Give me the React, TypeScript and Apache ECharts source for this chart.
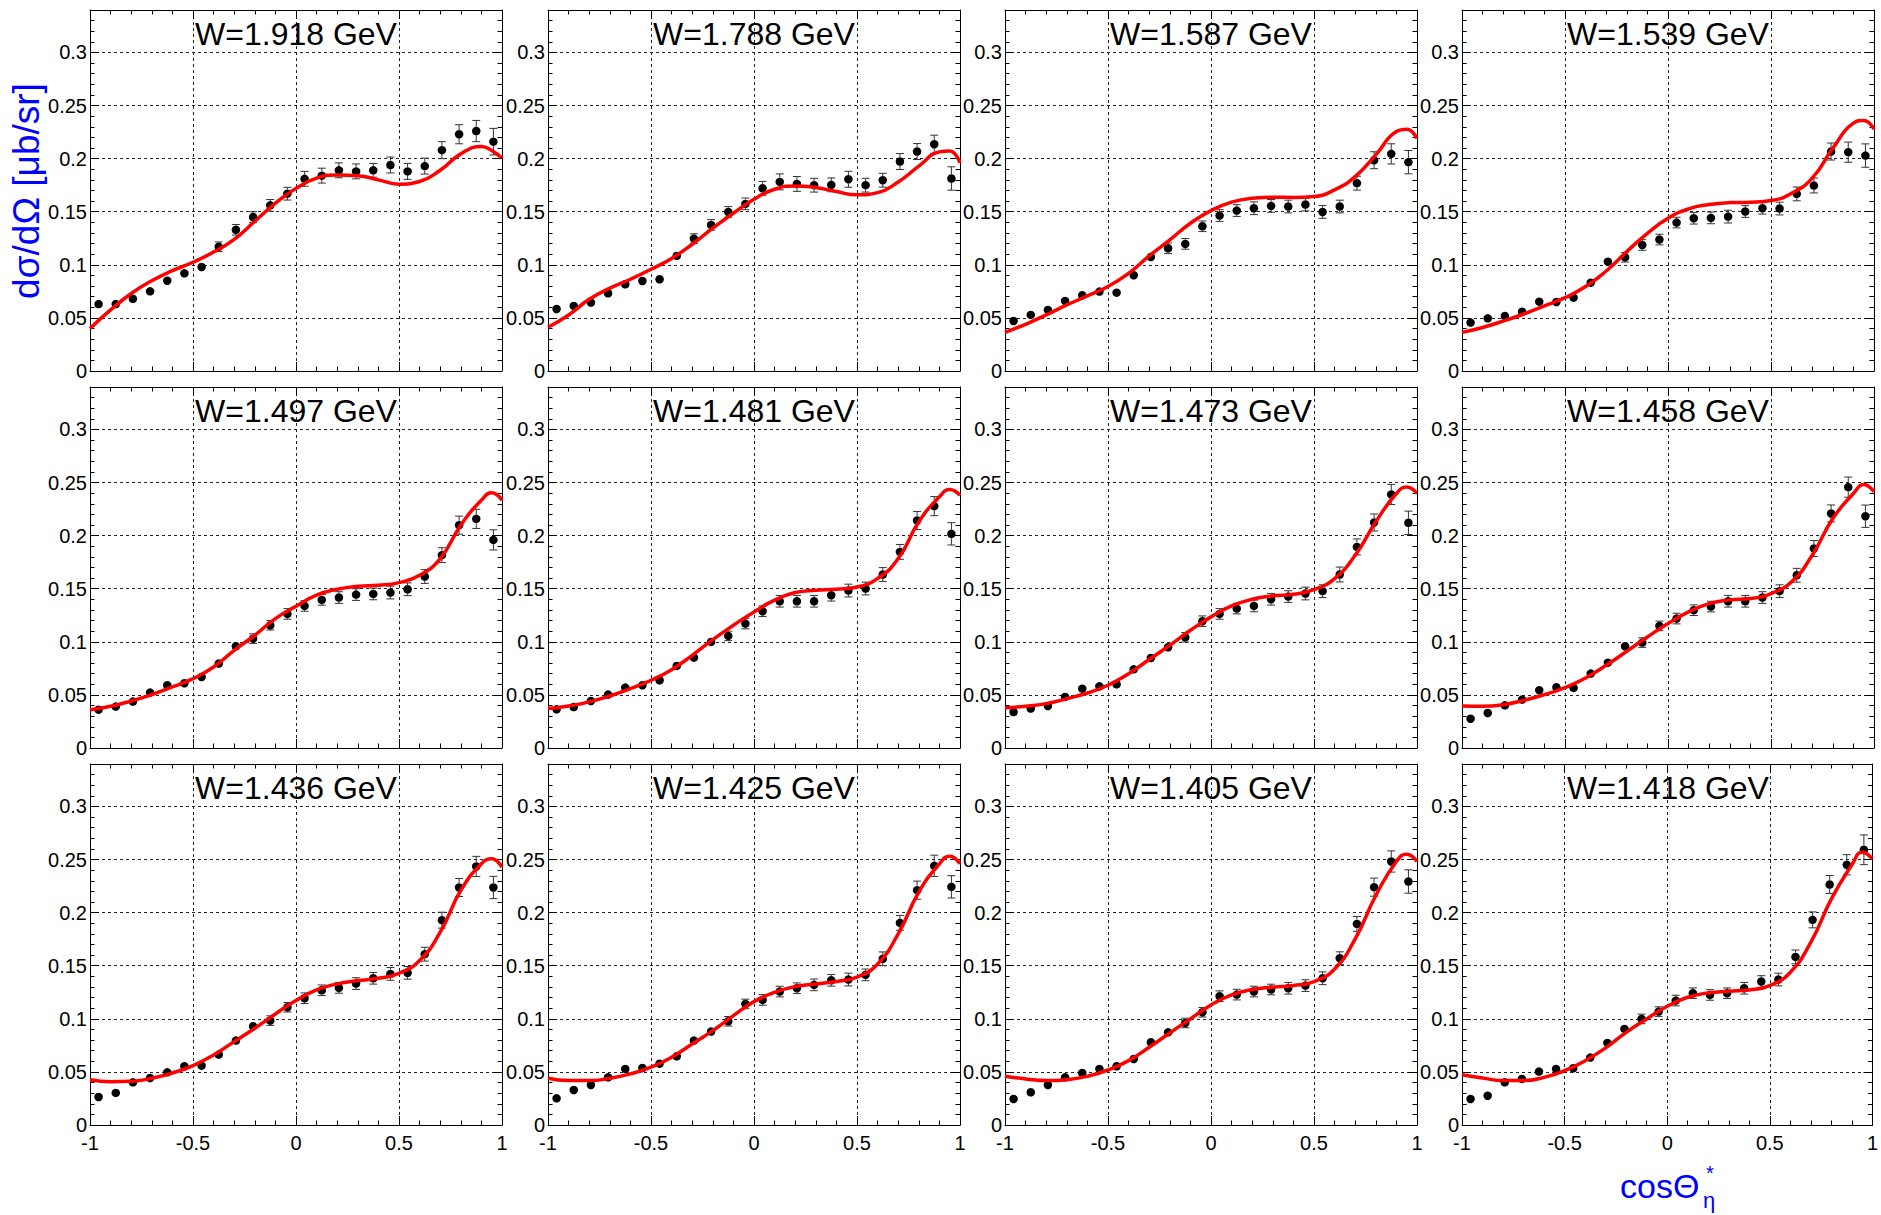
import React, { useEffect, useRef } from "react";
import * as echarts from "echarts";

const FONT = '"Liberation Sans", Arial, Helvetica, sans-serif';

const panelTitles = [
  "W=1.918 GeV", "W=1.788 GeV", "W=1.587 GeV", "W=1.539 GeV",
  "W=1.497 GeV", "W=1.481 GeV", "W=1.473 GeV", "W=1.458 GeV",
  "W=1.436 GeV", "W=1.425 GeV", "W=1.405 GeV", "W=1.418 GeV",
];

const cosTheta = [-0.9583, -0.875, -0.7917, -0.7083, -0.625, -0.5417, -0.4583, -0.375, -0.2917, -0.2083, -0.125, -0.0417,
  0.0417, 0.125, 0.2083, 0.2917, 0.375, 0.4583, 0.5417, 0.625, 0.7083, 0.7917, 0.875, 0.9583];

const curveX = [-1, -0.9, -0.8, -0.7, -0.6, -0.5, -0.4, -0.3, -0.2, -0.1, 0, 0.1, 0.2, 0.3, 0.4, 0.5, 0.6, 0.7, 0.8, 0.9, 0.95, 1];

const yTicks = ["0", "0.05", "0.1", "0.15", "0.2", "0.25", "0.3"];

const data1918 = [0.063,0.063,0.068,0.075,0.085,0.092,0.098,0.117,0.133,0.145,0.156,0.167,0.181,0.184,0.189,0.188,0.189,0.194,0.188,0.193,0.208,0.223,0.226,0.216];
const err1918 = [0.003,0.003,0.003,0.003,0.0035,0.004,0.004,0.0045,0.005,0.005,0.0055,0.006,0.007,0.007,0.007,0.007,0.0065,0.0075,0.0075,0.0075,0.008,0.009,0.010,0.0125];
const fit1918 = [0.040,0.0575,0.073,0.085,0.0945,0.1024,0.112,0.124,0.141,0.158,0.172,0.1816,0.1847,0.184,0.180,0.176,0.1785,0.189,0.2045,0.2114,0.2076,0.2004];

const data1788 = [0.0584,0.0613,0.0644,0.0732,0.0817,0.0848,0.0864,0.1084,0.1247,0.1376,0.1498,0.1574,0.1721,0.1781,0.1762,0.175,0.1753,0.1806,0.175,0.1797,0.1973,0.2067,0.2136,0.1813];
const err1788 = [0.003,0.003,0.003,0.003,0.003,0.0035,0.0035,0.004,0.0045,0.005,0.005,0.0055,0.0065,0.0075,0.007,0.0065,0.0065,0.0075,0.0065,0.0065,0.0075,0.0075,0.0085,0.011];
const fit1788 = [0.0412,0.0528,0.0675,0.078,0.0864,0.0958,0.106,0.1194,0.1345,0.1486,0.1618,0.1712,0.1743,0.1728,0.169,0.1659,0.168,0.178,0.193,0.2064,0.2073,0.196];

const data1587 = [0.0471,0.0528,0.0575,0.066,0.0713,0.0748,0.0738,0.0902,0.1074,0.1156,0.1197,0.1363,0.1464,0.1511,0.1533,0.1555,0.1549,0.1568,0.1498,0.1549,0.1769,0.1985,0.2045,0.1967];
const err1587 = [0.003,0.003,0.003,0.003,0.003,0.003,0.003,0.0035,0.004,0.005,0.005,0.005,0.0055,0.0055,0.006,0.006,0.006,0.006,0.006,0.006,0.0065,0.008,0.0095,0.011];
const fit1587 = [0.0364,0.044,0.0528,0.0622,0.0707,0.0795,0.092,0.1084,0.1235,0.1392,0.1511,0.159,0.1627,0.1637,0.1634,0.1643,0.1706,0.1831,0.2036,0.2256,0.2278,0.219];

const data1539 = [0.0456,0.0496,0.0518,0.0559,0.0653,0.065,0.0691,0.0832,0.103,0.1071,0.1187,0.1238,0.1398,0.1439,0.1442,0.1454,0.1502,0.1533,0.153,0.1668,0.1747,0.2067,0.2061,0.2029];
const err1539 = [0.003,0.003,0.003,0.003,0.003,0.003,0.003,0.0035,0.004,0.0045,0.005,0.005,0.005,0.0055,0.0055,0.006,0.0055,0.0055,0.006,0.0065,0.007,0.008,0.0095,0.011];
const fit1539 = [0.0364,0.041,0.047,0.0537,0.0613,0.0691,0.0795,0.0942,0.1125,0.1297,0.1439,0.1527,0.1568,0.1586,0.159,0.1605,0.1674,0.1816,0.2098,0.2334,0.236,0.2278];

const data1497 = [0.0361,0.039,0.0437,0.0522,0.0591,0.061,0.0669,0.0795,0.0958,0.103,0.1156,0.1263,0.1338,0.1395,0.1417,0.1445,0.1451,0.1464,0.1495,0.1615,0.1816,0.2099,0.2158,0.196];
const err1497 = [0.003,0.003,0.003,0.003,0.003,0.003,0.003,0.0035,0.004,0.0045,0.0045,0.005,0.005,0.005,0.0055,0.0055,0.0055,0.006,0.006,0.0065,0.007,0.0085,0.009,0.0095];
const fit1497 = [0.0361,0.0393,0.0443,0.0503,0.0575,0.0653,0.0763,0.092,0.1062,0.1219,0.1335,0.1439,0.1495,0.1524,0.1533,0.1558,0.1627,0.1784,0.2099,0.2334,0.2403,0.2334];

const data1481 = [0.0364,0.0386,0.0443,0.0503,0.0569,0.0591,0.0638,0.0773,0.0851,0.0999,0.1056,0.1172,0.1288,0.1382,0.1382,0.1382,0.1439,0.1483,0.1502,0.1634,0.1847,0.2143,0.2278,0.2017];
const err1481 = [0.003,0.003,0.003,0.003,0.003,0.003,0.003,0.003,0.0035,0.004,0.0045,0.005,0.005,0.0055,0.0055,0.0055,0.0055,0.006,0.006,0.0065,0.007,0.0085,0.009,0.0105];
const fit1481 = [0.0371,0.0396,0.0434,0.049,0.0559,0.0638,0.0738,0.0873,0.1021,0.1156,0.1282,0.1392,0.1464,0.1486,0.1495,0.1517,0.1596,0.1784,0.213,0.2366,0.2435,0.2381];

const data1473 = [0.0339,0.0371,0.0396,0.0481,0.0559,0.0581,0.06,0.0741,0.0848,0.0949,0.1043,0.1194,0.1263,0.1313,0.1338,0.1401,0.1426,0.1455,0.1477,0.1634,0.1894,0.2124,0.2388,0.2121];
const err1473 = [0.003,0.003,0.003,0.003,0.003,0.003,0.003,0.003,0.0035,0.004,0.0045,0.005,0.005,0.005,0.0055,0.0055,0.0055,0.006,0.006,0.007,0.0075,0.008,0.0095,0.011];
const fit1473 = [0.038,0.0393,0.0418,0.0465,0.0518,0.0591,0.07,0.0833,0.0968,0.1109,0.1235,0.1338,0.1401,0.1433,0.1448,0.1492,0.1596,0.1816,0.213,0.2397,0.2457,0.2397];

const data1458 = [0.0276,0.033,0.0402,0.0456,0.0544,0.0572,0.0566,0.0701,0.0804,0.0958,0.0993,0.115,0.1219,0.1298,0.1332,0.1382,0.1382,0.1417,0.1477,0.1627,0.1879,0.2209,0.2457,0.2183];
const err1458 = [0.003,0.003,0.003,0.003,0.003,0.003,0.003,0.003,0.0035,0.004,0.0045,0.0045,0.005,0.005,0.005,0.0055,0.0055,0.0055,0.006,0.0065,0.0075,0.008,0.0095,0.0105];
const fit1458 = [0.0396,0.0393,0.0408,0.0449,0.0503,0.0569,0.066,0.0779,0.0911,0.1046,0.1172,0.1282,0.136,0.1395,0.1407,0.1455,0.1565,0.1816,0.2161,0.2397,0.2482,0.2413];

const data1436 = [0.0264,0.0302,0.0402,0.0443,0.0496,0.0553,0.0559,0.0663,0.0795,0.093,0.0983,0.1109,0.1194,0.1269,0.1291,0.1332,0.1382,0.1423,0.1433,0.1609,0.1929,0.2237,0.2435,0.2237];
const err1436 = [0.002,0.002,0.003,0.003,0.003,0.003,0.003,0.003,0.0035,0.004,0.0045,0.0045,0.005,0.005,0.005,0.0055,0.0055,0.006,0.006,0.0065,0.0075,0.0085,0.0095,0.0105];
const fit1436 = [0.0427,0.0408,0.0412,0.044,0.049,0.0559,0.066,0.0785,0.0911,0.1046,0.1172,0.1272,0.1329,0.136,0.1382,0.1429,0.1549,0.1816,0.2209,0.246,0.2507,0.2429];

const data1425 = [0.0251,0.033,0.0377,0.0449,0.0528,0.0537,0.0578,0.0647,0.0795,0.088,0.0977,0.114,0.1178,0.1257,0.1288,0.132,0.1363,0.137,0.1414,0.1565,0.1904,0.2212,0.2441,0.2243];
const err1425 = [0.002,0.002,0.003,0.003,0.003,0.003,0.003,0.003,0.0035,0.004,0.0045,0.0045,0.005,0.005,0.005,0.0055,0.0055,0.006,0.0055,0.0065,0.007,0.0085,0.01,0.0105];
const fit1425 = [0.044,0.0418,0.0418,0.044,0.0481,0.0544,0.0638,0.0763,0.0889,0.103,0.1162,0.125,0.1304,0.1329,0.1351,0.1392,0.1517,0.18,0.2193,0.246,0.2532,0.246];

const data1405 = [0.0245,0.0308,0.0377,0.0449,0.049,0.0528,0.0553,0.0622,0.0779,0.0873,0.0961,0.1062,0.1213,0.1228,0.1257,0.1276,0.1288,0.1313,0.1382,0.1571,0.1894,0.224,0.2482,0.2293];
const err1405 = [0.002,0.002,0.003,0.003,0.003,0.003,0.003,0.003,0.0035,0.004,0.0045,0.0045,0.005,0.005,0.005,0.005,0.0055,0.0055,0.006,0.006,0.007,0.0085,0.01,0.011];
const fit1405 = [0.0459,0.0434,0.0418,0.0427,0.0459,0.0518,0.0606,0.0732,0.0867,0.0999,0.1131,0.1225,0.1276,0.1298,0.1313,0.1351,0.147,0.1753,0.2161,0.2482,0.2551,0.2482];

const data1418 = [0.0245,0.0276,0.0402,0.0434,0.0503,0.0528,0.0534,0.0635,0.0773,0.0905,0.0999,0.1068,0.1172,0.1241,0.1225,0.1241,0.1288,0.1351,0.137,0.1583,0.1932,0.2265,0.2451,0.2592];
const err1418 = [0.002,0.002,0.003,0.003,0.003,0.003,0.003,0.003,0.0035,0.004,0.0045,0.0045,0.005,0.005,0.005,0.005,0.0055,0.0055,0.006,0.0065,0.0075,0.0085,0.0095,0.014];
const fit1418 = [0.0474,0.0443,0.0418,0.0418,0.0449,0.0512,0.0606,0.0726,0.0873,0.0999,0.1118,0.1203,0.1244,0.126,0.1272,0.1313,0.1439,0.1722,0.213,0.2451,0.257,0.2507];

const panelData = [data1918, data1788, data1587, data1539, data1497, data1481, data1473, data1458, data1436, data1425, data1405, data1418];
const panelErr = [err1918, err1788, err1587, err1539, err1497, err1481, err1473, err1458, err1436, err1425, err1405, err1418];
const panelFit = [fit1918, fit1788, fit1587, fit1539, fit1497, fit1481, fit1473, fit1458, fit1436, fit1425, fit1405, fit1418];

// layout (pixels)
const COL_LEFT = [90, 548, 1005, 1462];
const ROW_TOP = [10, 387, 764];
const PANEL_W = 412;
const PANEL_H = 361;
const MARKER = 8.5;

function buildOption() {
  const grids: any[] = [];
  const xAxes: any[] = [];
  const yAxes: any[] = [];
  const series: any[] = [];
  const graphics: any[] = [];

  const tickStyle = { color: "#000", width: 1 };
  const gridLine = { color: "#222", width: 1, type: [3, 3] };

  for (let i = 0; i < 12; i++) {
    const r = Math.floor(i / 4);
    const c = i % 4;
    grids.push({ left: COL_LEFT[c], top: ROW_TOP[r], width: PANEL_W, height: PANEL_H, containLabel: false });

    const xBase = {
      type: "value", gridIndex: i, min: -1, max: 1, interval: 0.5,
      axisLine: { show: true, onZero: false, lineStyle: tickStyle },
      axisTick: { show: true, inside: true, length: 9, lineStyle: tickStyle },
      minorTick: { show: true, splitNumber: 5, length: 4.5, lineStyle: tickStyle },
    };
    xAxes.push({
      ...xBase, position: "bottom",
      axisLabel: { show: r === 2, fontSize: 20, fontFamily: FONT, color: "#000", margin: 8 },
      splitLine: { show: true, lineStyle: gridLine },
    });
    xAxes.push({ ...xBase, position: "top", axisLabel: { show: false }, splitLine: { show: false } });

    const yBase = {
      type: "value", gridIndex: i, min: 0, max: 0.34, interval: 0.05,
      axisLine: { show: true, onZero: false, lineStyle: tickStyle },
      axisTick: { show: true, inside: true, length: 9, lineStyle: tickStyle },
      minorTick: { show: true, splitNumber: 5, length: 4.5, lineStyle: tickStyle },
    };
    yAxes.push({
      ...yBase, position: "left",
      axisLabel: {
        show: true, fontSize: 20, fontFamily: FONT, color: "#000", margin: 3,
        formatter: (v: number) => {
          const k = Math.round(v / 0.05);
          if (Math.abs(v - k * 0.05) > 1e-6) return "";
          return yTicks[k] ?? "";
        },
      },
      splitLine: { show: true, lineStyle: gridLine },
    });
    yAxes.push({ ...yBase, position: "right", axisLabel: { show: false }, splitLine: { show: false } });

    const xi = 2 * i;
    const yi = 2 * i;
    const vals = panelData[i];
    const errs = panelErr[i];
    const fit = panelFit[i];

    series.push({
      type: "custom",
      xAxisIndex: xi, yAxisIndex: yi,
      silent: true, z: 3,
      data: cosTheta.map((x, k) => [x, vals[k], errs[k]]),
      encode: { x: 0, y: 1 },
      renderItem: (params: any, api: any) => {
        const x = api.value(0);
        const y = api.value(1);
        const e = api.value(2);
        const pc = api.coord([x, y]);
        const pl = api.coord([x, y - e]);
        const ph = api.coord([x, y + e]);
        const rad = MARKER / 2;
        const cap = 4;
        const style = { stroke: "#333", lineWidth: 1 };
        const children: any[] = [];
        if (pl[1] - pc[1] > rad + 0.5) {
          children.push({ type: "line", shape: { x1: pc[0], y1: pc[1] + rad, x2: pl[0], y2: pl[1] }, style });
          children.push({ type: "line", shape: { x1: pl[0] - cap, y1: pl[1], x2: pl[0] + cap, y2: pl[1] }, style });
          children.push({ type: "line", shape: { x1: pc[0], y1: pc[1] - rad, x2: ph[0], y2: ph[1] }, style });
          children.push({ type: "line", shape: { x1: ph[0] - cap, y1: ph[1], x2: ph[0] + cap, y2: ph[1] }, style });
        }
        return { type: "group", children };
      },
    });

    series.push({
      type: "scatter",
      xAxisIndex: xi, yAxisIndex: yi,
      silent: true, z: 4,
      symbol: "circle", symbolSize: MARKER,
      itemStyle: { color: "#000", opacity: 1 },
      data: cosTheta.map((x, k) => [x, vals[k]]),
    });

    series.push({
      type: "line",
      xAxisIndex: xi, yAxisIndex: yi,
      silent: true, z: 5,
      smooth: true, symbol: "none", showSymbol: false,
      lineStyle: { color: "#ff0000", width: 3.5 },
      data: curveX.map((x, k) => [x, fit[k]]),
    });

    graphics.push({
      type: "text",
      x: COL_LEFT[c] + PANEL_W / 2,
      y: ROW_TOP[r] + 24,
      z: 100,
      style: {
        text: panelTitles[i], fontSize: 32, fontFamily: FONT, fill: "#000",
        align: "center", verticalAlign: "middle", textAlign: "center", textVerticalAlign: "middle",
      },
    });
  }

  graphics.push({
    type: "text",
    x: 26, y: 191, rotation: Math.PI / 2, z: 100,
    style: {
      text: "dσ/dΩ [μb/sr]", fontSize: 37, fontFamily: FONT, fill: "#0000ff",
      align: "center", verticalAlign: "middle", textAlign: "center", textVerticalAlign: "middle",
    },
  });
  graphics.push({
    type: "text", x: 1620, y: 1186, z: 100,
    style: { text: "cosΘ", fontSize: 34, fontFamily: FONT, fill: "#0000ff", align: "left", verticalAlign: "middle", textAlign: "left", textVerticalAlign: "middle" },
  });
  graphics.push({
    type: "text", x: 1703, y: 1200, z: 100,
    style: { text: "η", fontSize: 22, fontFamily: FONT, fill: "#0000ff", align: "left", verticalAlign: "middle", textAlign: "left", textVerticalAlign: "middle" },
  });
  graphics.push({
    type: "text", x: 1706, y: 1173, z: 100,
    style: { text: "*", fontSize: 20, fontFamily: FONT, fill: "#0000ff", align: "left", verticalAlign: "middle", textAlign: "left", textVerticalAlign: "middle" },
  });

  return {
    animation: false,
    backgroundColor: "#ffffff",
    textStyle: { fontFamily: FONT },
    grid: grids,
    xAxis: xAxes,
    yAxis: yAxes,
    series,
    graphic: { elements: graphics },
  };
}

export default function App() {
  const ref = useRef<HTMLDivElement>(null);
  useEffect(() => {
    if (!ref.current) return;
    const chart = echarts.init(ref.current, undefined, { renderer: "svg" });
    chart.setOption(buildOption() as any);
    return () => chart.dispose();
  }, []);
  return (
    <div
      ref={ref}
      style={{ position: "fixed", left: 0, top: 0, width: 1881, height: 1215, background: "#fff" }}
    />
  );
}
